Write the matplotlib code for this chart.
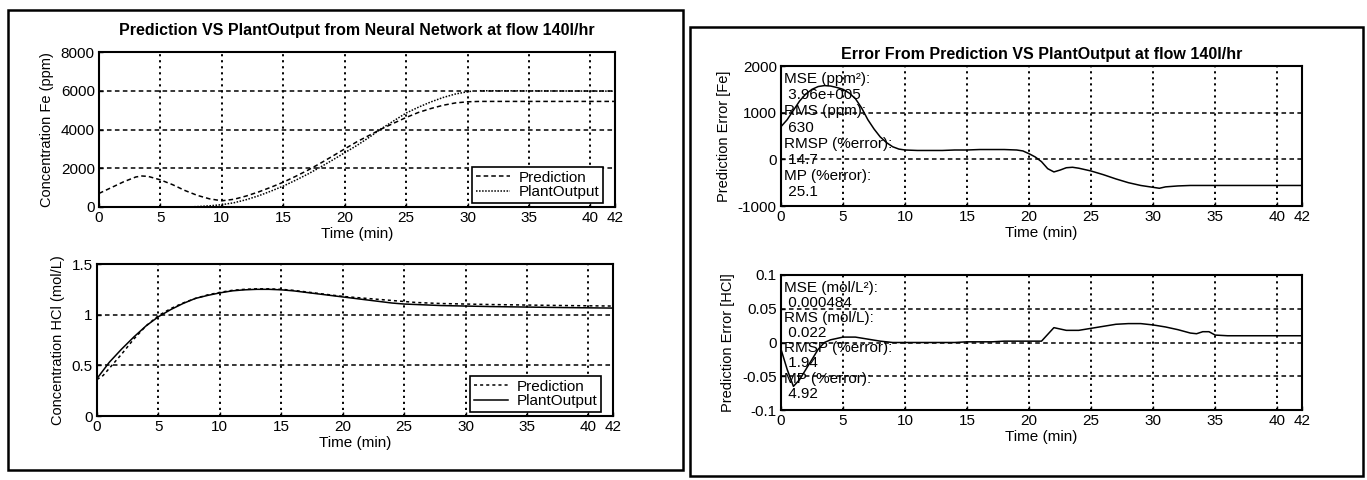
import numpy as np
import matplotlib.pyplot as plt
from matplotlib.patches import Rectangle

plt.rcParams["font.family"] = ["Liberation Sans", "DejaVu Sans"]
plt.rcParams["axes.unicode_minus"] = False

# Fe concentration (ppm)
t_fe_pred = [0, 1, 2, 3, 3.5, 4, 5, 6, 7, 8, 9, 10, 11, 12, 13, 14, 15, 16, 17, 18, 19,
             20, 21, 22, 23, 24, 25, 26, 27, 28, 29, 30, 31, 42]
fe_pred = [700, 1000, 1300, 1550, 1600, 1580, 1400, 1150, 850, 600, 420, 320, 400, 570,
           780, 1020, 1280, 1580, 1900, 2250, 2620, 3000, 3370, 3700, 4030, 4330, 4620,
           4880, 5080, 5250, 5370, 5430, 5450, 5450]
t_fe_plant = [7, 8, 9, 10, 11, 12, 13, 14, 15, 16, 17, 18, 19, 20, 21, 22, 23, 24, 25,
              26, 27, 28, 29, 30, 30.4]
fe_plant = [0, 20, 60, 120, 220, 380, 580, 820, 1080, 1380, 1700, 2050, 2420, 2800, 3180,
            3600, 4050, 4450, 4850, 5150, 5420, 5650, 5830, 5950, 5980]
t_fe_plant2 = [31, 42]
fe_plant2 = [6000, 5980]

# HCl concentration (mol/L)
t_hcl = [0, 0.5, 1, 2, 3, 4, 5, 6, 7, 8, 9, 10, 11, 12, 13, 14, 15, 16, 17, 18, 19, 20,
         21, 22, 23, 24, 25, 26, 28, 30, 32, 35, 38, 42]
hcl_plant = [0.37, 0.45, 0.53, 0.66, 0.78, 0.89, 0.98, 1.05, 1.11, 1.16, 1.19, 1.215,
             1.235, 1.245, 1.25, 1.25, 1.245, 1.235, 1.22, 1.205, 1.19, 1.175, 1.16,
             1.145, 1.13, 1.115, 1.105, 1.10, 1.09, 1.085, 1.08, 1.075, 1.07, 1.065]
hcl_pred = [0.36, 0.40, 0.47, 0.61, 0.76, 0.89, 0.99, 1.06, 1.115, 1.16, 1.195, 1.22,
            1.24, 1.25, 1.255, 1.255, 1.25, 1.24, 1.225, 1.21, 1.195, 1.18, 1.17, 1.16,
            1.15, 1.14, 1.13, 1.12, 1.11, 1.105, 1.10, 1.095, 1.09, 1.085]

# prediction error Fe
t_err_fe = [0, 0.5, 1, 1.5, 2, 2.5, 3, 3.5, 4, 4.5, 5, 5.5, 6, 6.5, 7, 7.5, 8, 8.5, 9,
            9.5, 10, 11, 12, 13, 14, 15, 16, 17, 18, 19, 19.5, 20, 20.5, 21, 21.5, 22,
            22.5, 23, 23.5, 24, 25, 26, 27, 28, 29, 30, 30.5, 31, 32, 33, 35, 42]
err_fe = [700, 850, 1050, 1250, 1400, 1500, 1560, 1580, 1570, 1540, 1500, 1420, 1300,
          1100, 850, 650, 480, 360, 270, 220, 200, 190, 190, 190, 200, 200, 210, 210, 210,
          200, 180, 120, 50, -50, -200, -270, -230, -180, -170, -190, -250, -330, -420,
          -500, -560, -600, -620, -590, -570, -560, -560, -560]

# prediction error HCl
t_err_hcl = [0, 0.5, 1, 1.5, 2, 2.5, 3, 3.5, 4, 5, 6, 7, 8, 9, 10, 12, 14, 15, 17, 18,
             20, 21, 22, 23, 24, 25, 26, 27, 28, 29, 30, 31, 32, 33, 33.5, 34, 34.5, 35,
             36, 42]
err_hcl = [-0.01, -0.04, -0.065, -0.055, -0.04, -0.025, -0.01, 0.0, 0.004, 0.008, 0.008,
           0.005, 0.002, 0.0, 0.0, 0.0, 0.0, 0.001, 0.001, 0.002, 0.002, 0.002, 0.022,
           0.018, 0.018, 0.021, 0.024, 0.027, 0.028, 0.028, 0.026, 0.023, 0.019, 0.014,
           0.013, 0.016, 0.016, 0.011, 0.01, 0.01]

fe_stats = ["MSE (ppm²):", " 3.96e+005", "RMS (ppm):", " 630",
            "RMSP (%error):", " 14.7", "MP (%error):", " 25.1"]
hcl_stats = ["MSE (mol/L²):", " 0.000484", "RMS (mol/L):", " 0.022",
             "RMSP (%error):", " 1.94", "MP (%error):", " 4.92"]

xticks = [0, 5, 10, 15, 20, 25, 30, 35, 40, 42]

W, H = 1367, 480
fig = plt.figure(figsize=(W / 100, H / 100), dpi=100)


def box(l, t, r, b):
    return [l / W, 1 - b / H, (r - l) / W, (b - t) / H]


def style(ax, ylim, yticks):
    ax.set_xlim(0, 42)
    ax.set_ylim(*ylim)
    ax.set_xticks(xticks)
    ax.set_yticks(yticks)
    ax.tick_params(direction="in", length=3, labelsize=11, width=1, pad=3)
    for s in ax.spines.values():
        s.set_linewidth(1.5)
    for x in xticks[1:-1]:
        ax.axvline(x, color="black", lw=1.4, ls=(0, (1.1, 2.0)), zorder=0)
    for y in yticks[1:-1]:
        ax.axhline(y, color="black", lw=1.1, ls=(0, (3, 2.2)), zorder=0)
    ax.set_xlabel("Time (min)", fontsize=11, labelpad=1)


def legend(ax):
    ax.legend(loc="lower right", bbox_to_anchor=(0.985, 0.0), fontsize=11, frameon=True,
              fancybox=False, edgecolor="black", framealpha=1, handlelength=2.2,
              borderpad=0.25, labelspacing=0.05, handletextpad=0.6, borderaxespad=0.25)
    ax.get_legend().get_frame().set_linewidth(1.2)


# panel borders
fig.add_artist(Rectangle((8 / W, 1 - 470 / H), 675 / W, 460 / H, transform=fig.transFigure,
                         fill=False, lw=1.8, color="black"))
fig.add_artist(Rectangle((690 / W, 1 - 476 / H), 673 / W, 449 / H, transform=fig.transFigure,
                         fill=False, lw=1.8, color="black"))

# top-left: Fe concentration
ax1 = fig.add_axes(box(99, 52, 615, 207))
ax1.plot(t_fe_pred, fe_pred, color="black", lw=1.1, ls=(0, (3, 2)), label="Prediction")
ax1.plot(t_fe_plant, fe_plant, color="black", lw=1.1, ls=(0, (1, 1)), label="PlantOutput")
ax1.plot(t_fe_plant2, fe_plant2, color="black", lw=1.1, ls=(0, (1, 1)))
style(ax1, (0, 8000), [0, 2000, 4000, 6000, 8000])
ax1.set_ylabel("Concentration Fe (ppm)", fontsize=10.5, labelpad=5)
ax1.set_title("Prediction VS PlantOutput from Neural Network at flow 140l/hr",
              fontsize=11.5, fontweight="bold", pad=12)
legend(ax1)

# bottom-left: HCl concentration
ax2 = fig.add_axes(box(97, 264, 613, 416))
ax2.plot(t_hcl, hcl_pred, color="black", lw=1.1, ls=(0, (2, 2)), label="Prediction")
ax2.plot(t_hcl, hcl_plant, color="black", lw=1.1, label="PlantOutput")
style(ax2, (0, 1.5), [0, 0.5, 1, 1.5])
ax2.set_yticklabels(["0", "0.5", "1", "1.5"])
ax2.set_ylabel("Concentration HCl (mol/L)", fontsize=10.5, labelpad=5)
legend(ax2)

# top-right: Fe error
ax3 = fig.add_axes(box(781, 66, 1302, 206))
ax3.plot(t_err_fe, err_fe, color="black", lw=1.1)
style(ax3, (-1000, 2000), [-1000, 0, 1000, 2000])
ax3.set_ylabel("Prediction Error [Fe]", fontsize=10.5, labelpad=5)
ax3.set_title("Error From Prediction VS PlantOutput at flow 140l/hr",
              fontsize=11.5, fontweight="bold", pad=5)
for i, s in enumerate(fe_stats):
    ax3.text(0.005, 1 - (0.095 + i * 0.115), s, transform=ax3.transAxes, fontsize=11,
             va="center", ha="left")

# bottom-right: HCl error
ax4 = fig.add_axes(box(781, 275, 1302, 410))
ax4.plot(t_err_hcl, err_hcl, color="black", lw=1.1)
style(ax4, (-0.1, 0.1), [-0.1, -0.05, 0, 0.05, 0.1])
ax4.set_yticklabels(["-0.1", "-0.05", "0", "0.05", "0.1"])
ax4.set_ylabel("Prediction Error [HCl]", fontsize=10.5, labelpad=5)
for i, s in enumerate(hcl_stats):
    ax4.text(0.005, 1 - (0.095 + i * 0.112), s, transform=ax4.transAxes, fontsize=11,
             va="center", ha="left")

fig.savefig("out.png", dpi=100)
